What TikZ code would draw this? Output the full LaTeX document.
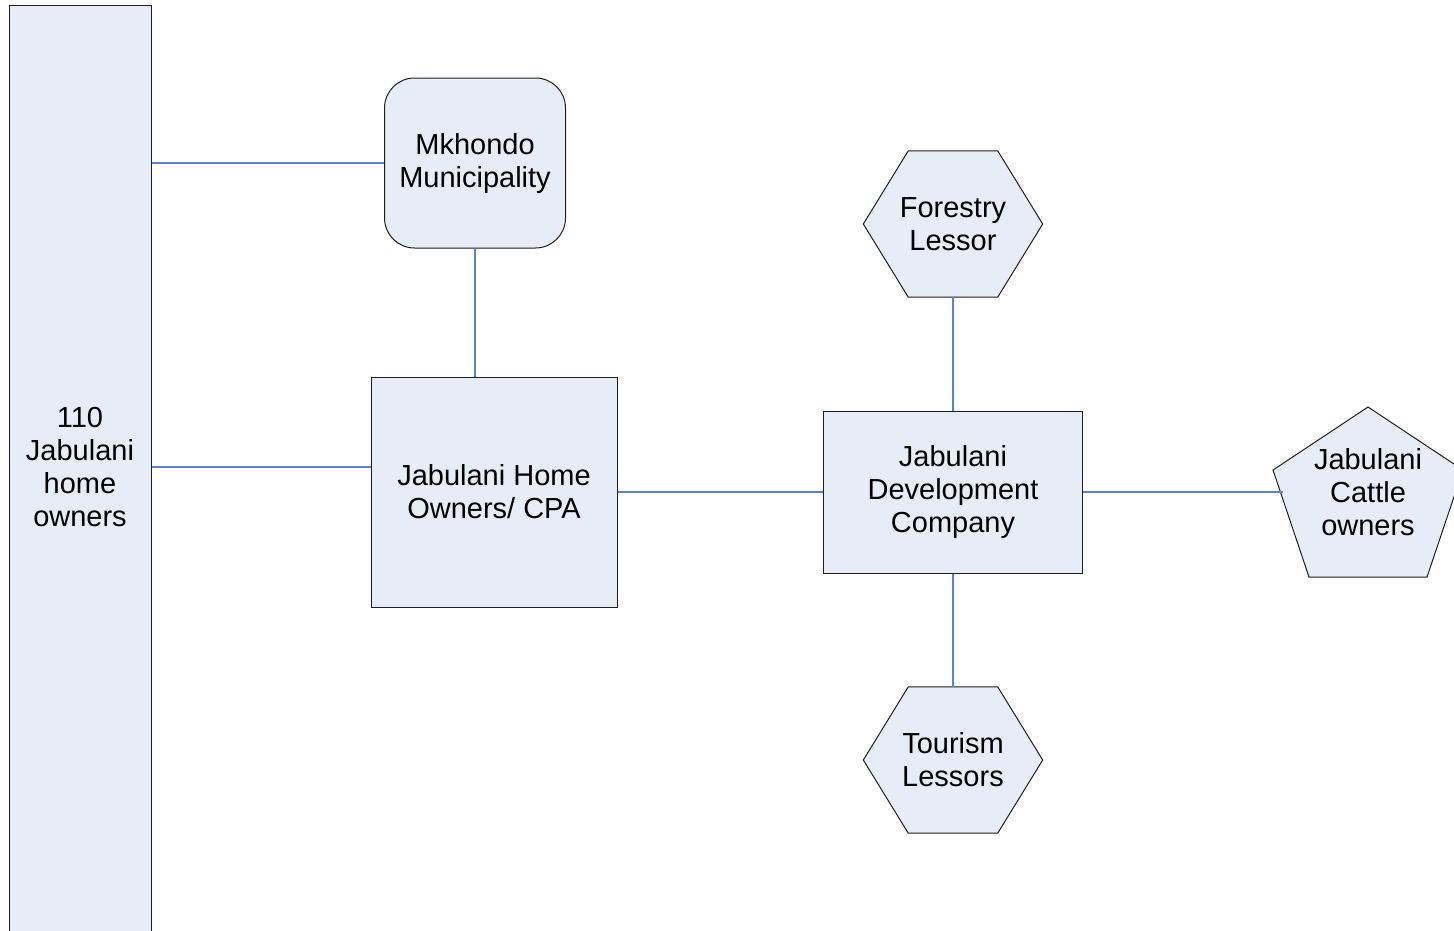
\documentclass[tikz,border=0pt]{standalone}
\usepackage{fontspec}
\setmainfont{Liberation Sans}
\usetikzlibrary{backgrounds}
\definecolor{boxfill}{RGB}{230,237,247}
\definecolor{boxline}{RGB}{30,30,30}
\definecolor{linkblue}{RGB}{90,130,205}
\begin{document}
\begin{tikzpicture}[x=1pt,y=-1pt,
  every node/.style={font=\fontsize{29}{33}\selectfont, align=center, inner sep=0pt},
  box/.style={draw=boxline, fill=boxfill, line width=1pt},
  link/.style={draw=linkblue, line width=1.1pt}]
\useasboundingbox (0,0) rectangle (1454,930);
\clip (0,0) rectangle (1454,930);

\node[box, minimum width=142, minimum height=960, anchor=north,
  label={[name=barlabel, yshift=18pt, align=center]center:110\\Jabulani\\home\\owners}] (bar) at (80,5) {};
\node[box, rounded corners=30pt, minimum width=181, minimum height=170] (mkh) at (475,163) {Mkhondo\\Municipality};
\node[box, minimum width=246, minimum height=230] (cpa) at (494,492) {Jabulani Home\\Owners/ CPA};
\node[box, minimum width=259, minimum height=162] (jdc) at (953,492) {Jabulani\\Development\\Company};
\node[minimum width=179, minimum height=146] (forest) at (953,224) {Forestry\\Lessor};
\node[minimum width=179, minimum height=146] (tour) at (953,760) {Tourism\\Lessors};
\node (cattle) at (1368,492) {Jabulani\\Cattle\\owners};

\begin{scope}[on background layer]
  \foreach \h in {forest,tour}{
    \draw[box] (\h.west) -- ([xshift=45pt]\h.north west) -- ([xshift=-45pt]\h.north east)
      -- (\h.east) -- ([xshift=-45pt]\h.south east) -- ([xshift=45pt]\h.south west) -- cycle;
  }
  \draw[box] ([shift={(0,-85)}]cattle.center) -- ([shift={(95,-22)}]cattle.center)
    -- ([shift={(59,85)}]cattle.center) -- ([shift={(-59,85)}]cattle.center)
    -- ([shift={(-95,-22)}]cattle.center) -- cycle;
  \coordinate (cpaIn) at ([yshift=25pt]cpa.west);
  \coordinate (cattleL) at ([xshift=-85pt]cattle.center);
  \draw[link] (bar.east |- mkh.west) -- (mkh.west);
  \draw[link] (cpaIn -| bar.east) -- (cpaIn);
  \draw[link] (mkh.south) -- (mkh.south |- cpa.north);
  \draw[link] (cpa.east) -- (jdc.west);
  \draw[link] (forest.south) -- (jdc.north);
  \draw[link] (jdc.south) -- (tour.north);
  \draw[link] (jdc.east) -- (cattleL);
\end{scope}
\end{tikzpicture}
\end{document}
